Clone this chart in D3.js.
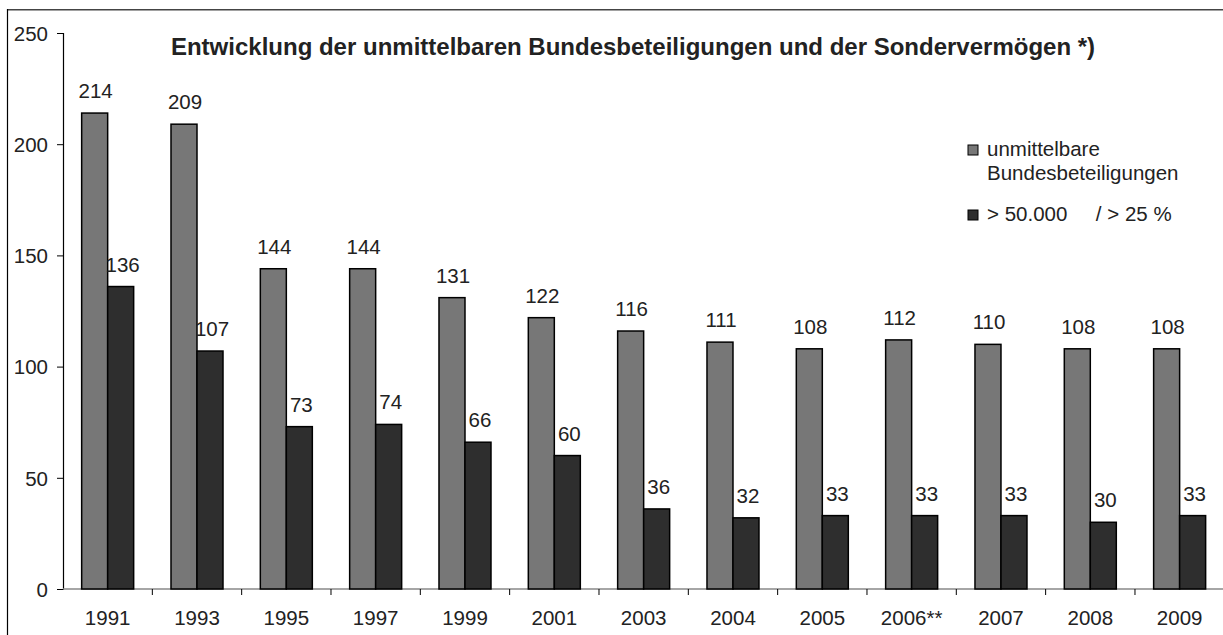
<!DOCTYPE html>
<html><head><meta charset="utf-8">
<script src="https://cdn.jsdelivr.net/npm/d3@7"></script>
<style>body{margin:0;background:#fff}svg{display:block;font-family:"Liberation Sans",Arial,sans-serif}</style>
</head><body><svg id="c" width="1223" height="635"></svg>
<script>
const categories = ["1991","1993","1995","1997","1999","2001","2003","2004","2005","2006**","2007","2008","2009"];
const direct = [214,209,144,144,131,122,116,111,108,112,110,108,108];
const large = [136,107,73,74,66,60,36,32,33,33,33,30,33];
const yTicks = [0,50,100,150,200,250];
const seriesNames = ["unmittelbare\nBundesbeteiligungen", "> 50.000     / > 25 %"];
const colors = ["#777777","#2e2e2e"];

(function(){
const svg = d3.select("#c");
const pL = 63, pR = 1224.3, pT = 33, pB = 589;
const FS = 20.5;
const x = d3.scaleBand().domain(categories).range([pL, pR]);
const y = d3.scaleLinear().domain([0,250]).range([pB, pT]);
const bw = 26;

// frame
svg.append("line").attr("x1",7).attr("y1",9.75).attr("x2",1223).attr("y2",9.75).attr("stroke","#444").attr("stroke-width",1.5);
svg.append("line").attr("x1",7.5).attr("y1",9).attr("x2",7.5).attr("y2",635).attr("stroke","#000").attr("stroke-width",1.2);

// y axis
const ya = svg.append("g").attr("transform",`translate(${pL},0)`)
  .call(d3.axisLeft(y).tickValues(yTicks).tickSize(6).tickPadding(9));
ya.select(".domain").attr("stroke","#000").attr("stroke-width",1.2);
ya.selectAll(".tick line").attr("stroke","#000");
ya.selectAll("text").attr("font-size",FS).attr("fill","#222").attr("font-family","Liberation Sans, Arial, sans-serif").attr("dy","0.36em");

// x axis
const xa = svg.append("g").attr("transform",`translate(0,${pB})`);
xa.append("line").attr("x1",pL).attr("x2",pR).attr("y1",0).attr("y2",0).attr("stroke","#888").attr("stroke-width",1.5);
categories.forEach((c,i)=>{
  const xb = x(c);
  if(i>0) xa.append("line").attr("x1",xb).attr("x2",xb).attr("y1",0).attr("y2",6).attr("stroke","#000");
  xa.append("text").attr("x",xb + x.bandwidth()/2).attr("y",36).attr("text-anchor","middle")
    .attr("font-size",FS).attr("fill","#222").text(c);
});

// bars
const g = svg.append("g");
[direct, large].forEach((vals,s)=>{
  categories.forEach((c,i)=>{
    const cx = x(c) + x.bandwidth()/2;
    const bx = cx - bw + s*bw;
    g.append("rect").attr("x",bx).attr("y",y(vals[i])).attr("width",bw).attr("height",y(0)-y(vals[i]))
      .attr("fill",colors[s]).attr("stroke","#000").attr("stroke-width",1.5);
    g.append("text").attr("x",bx+bw/2+ (s===0? 1:2)).attr("y",y(vals[i])-15).attr("text-anchor","middle")
      .attr("font-size",FS).attr("fill","#222").text(vals[i]);
  });
});

// title
svg.append("text").attr("x",633).attr("y",55).attr("text-anchor","middle").attr("font-weight","bold")
  .attr("font-size",24).attr("fill","#222").text("Entwicklung der unmittelbaren Bundesbeteiligungen und der Sondervermögen *)");

// legend
const lg = svg.append("g");
const legY = [150, 215];
seriesNames.forEach((n,s)=>{
  lg.append("rect").attr("x",968).attr("y",legY[s]-5).attr("width",10).attr("height",10)
    .attr("fill",colors[s]).attr("stroke","#000").attr("stroke-width",1);
  n.split("\n").forEach((line,k)=>{
    lg.append("text").attr("x",987).attr("y",legY[s]+6+k*24).attr("font-size",FS).attr("fill","#222")
      .attr("xml:space","preserve").style("white-space","pre").text(line);
  });
});
})();
</script></body></html>
